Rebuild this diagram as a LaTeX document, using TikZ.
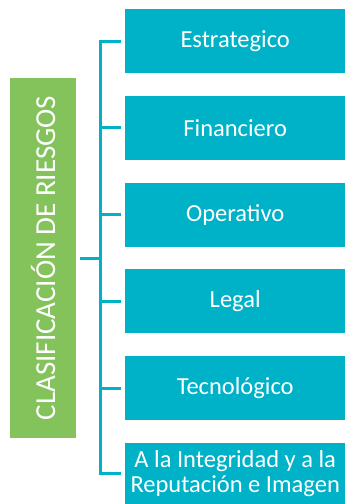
\documentclass[tikz,border=0pt]{standalone}
\usepackage{fontspec}
\setmainfont{Carlito}
\usepackage{tikz}
\usetikzlibrary{calc}

\definecolor{riesgoazul}{RGB}{0,178,200}
\definecolor{riesgoverde}{RGB}{132,194,91}

\tikzset{
	riesgo/.style={fill=riesgoazul, text=white, inner sep=0pt, align=center,
		minimum width=220pt, minimum height=64pt, anchor=north west,
		font=\fontsize{24.5}{25.5}\selectfont},
	clase/.style={fill=riesgoverde, text=white, inner sep=0pt, rotate=90,
		minimum width=360pt, minimum height=66pt,
		font=\fontsize{29}{30}\selectfont},
	link/.style={draw=riesgoazul, line width=3pt},
}

\begin{document}
\begin{tikzpicture}[x=1pt,y=-1pt]

% parameters %{{{2

	\def\boxleft{125}
	\def\boxtop{9}
	\def\rowstep{86.7}
	\def\spinex{100}
	\def\gap{4}

	\useasboundingbox (0,0) rectangle (345,504);

% boxes %{{{2

	\node[clase] (clasif) at (43,258) {CLASIFICACIÓN DE RIESGOS};

	\foreach \i/\txt in {1/Estrategico, 2/Financiero, 3/Operativo, 4/Legal, 5/Tecnológico} {
		\node[riesgo] (r\i) at (\boxleft, {\boxtop+\rowstep*(\i-1)}) {\txt};
	}
	\node[riesgo, minimum height=62pt] (r6) at (\boxleft, {\boxtop+\rowstep*5})
		{A la Integridad y a la\\Reputación e Imagen};

% spine %{{{2

	\foreach \i in {1,...,6} {
		\coordinate (s\i) at (\spinex, 0 |- r\i.west);
	}
	\coordinate (sc) at (\spinex, 0 |- clasif.center);

	\draw[link] ([xshift=-\gap pt]r1.west) -- (s1) -- (s6) -- ([xshift=-\gap pt]r6.west);
	\foreach \i in {2,...,5} { \draw[link] (s\i) -- ([xshift=-\gap pt]r\i.west); }
	\draw[link] ([xshift=\gap pt]clasif.south) -- (sc);

% closing %{{{2

\end{tikzpicture}
\end{document}
